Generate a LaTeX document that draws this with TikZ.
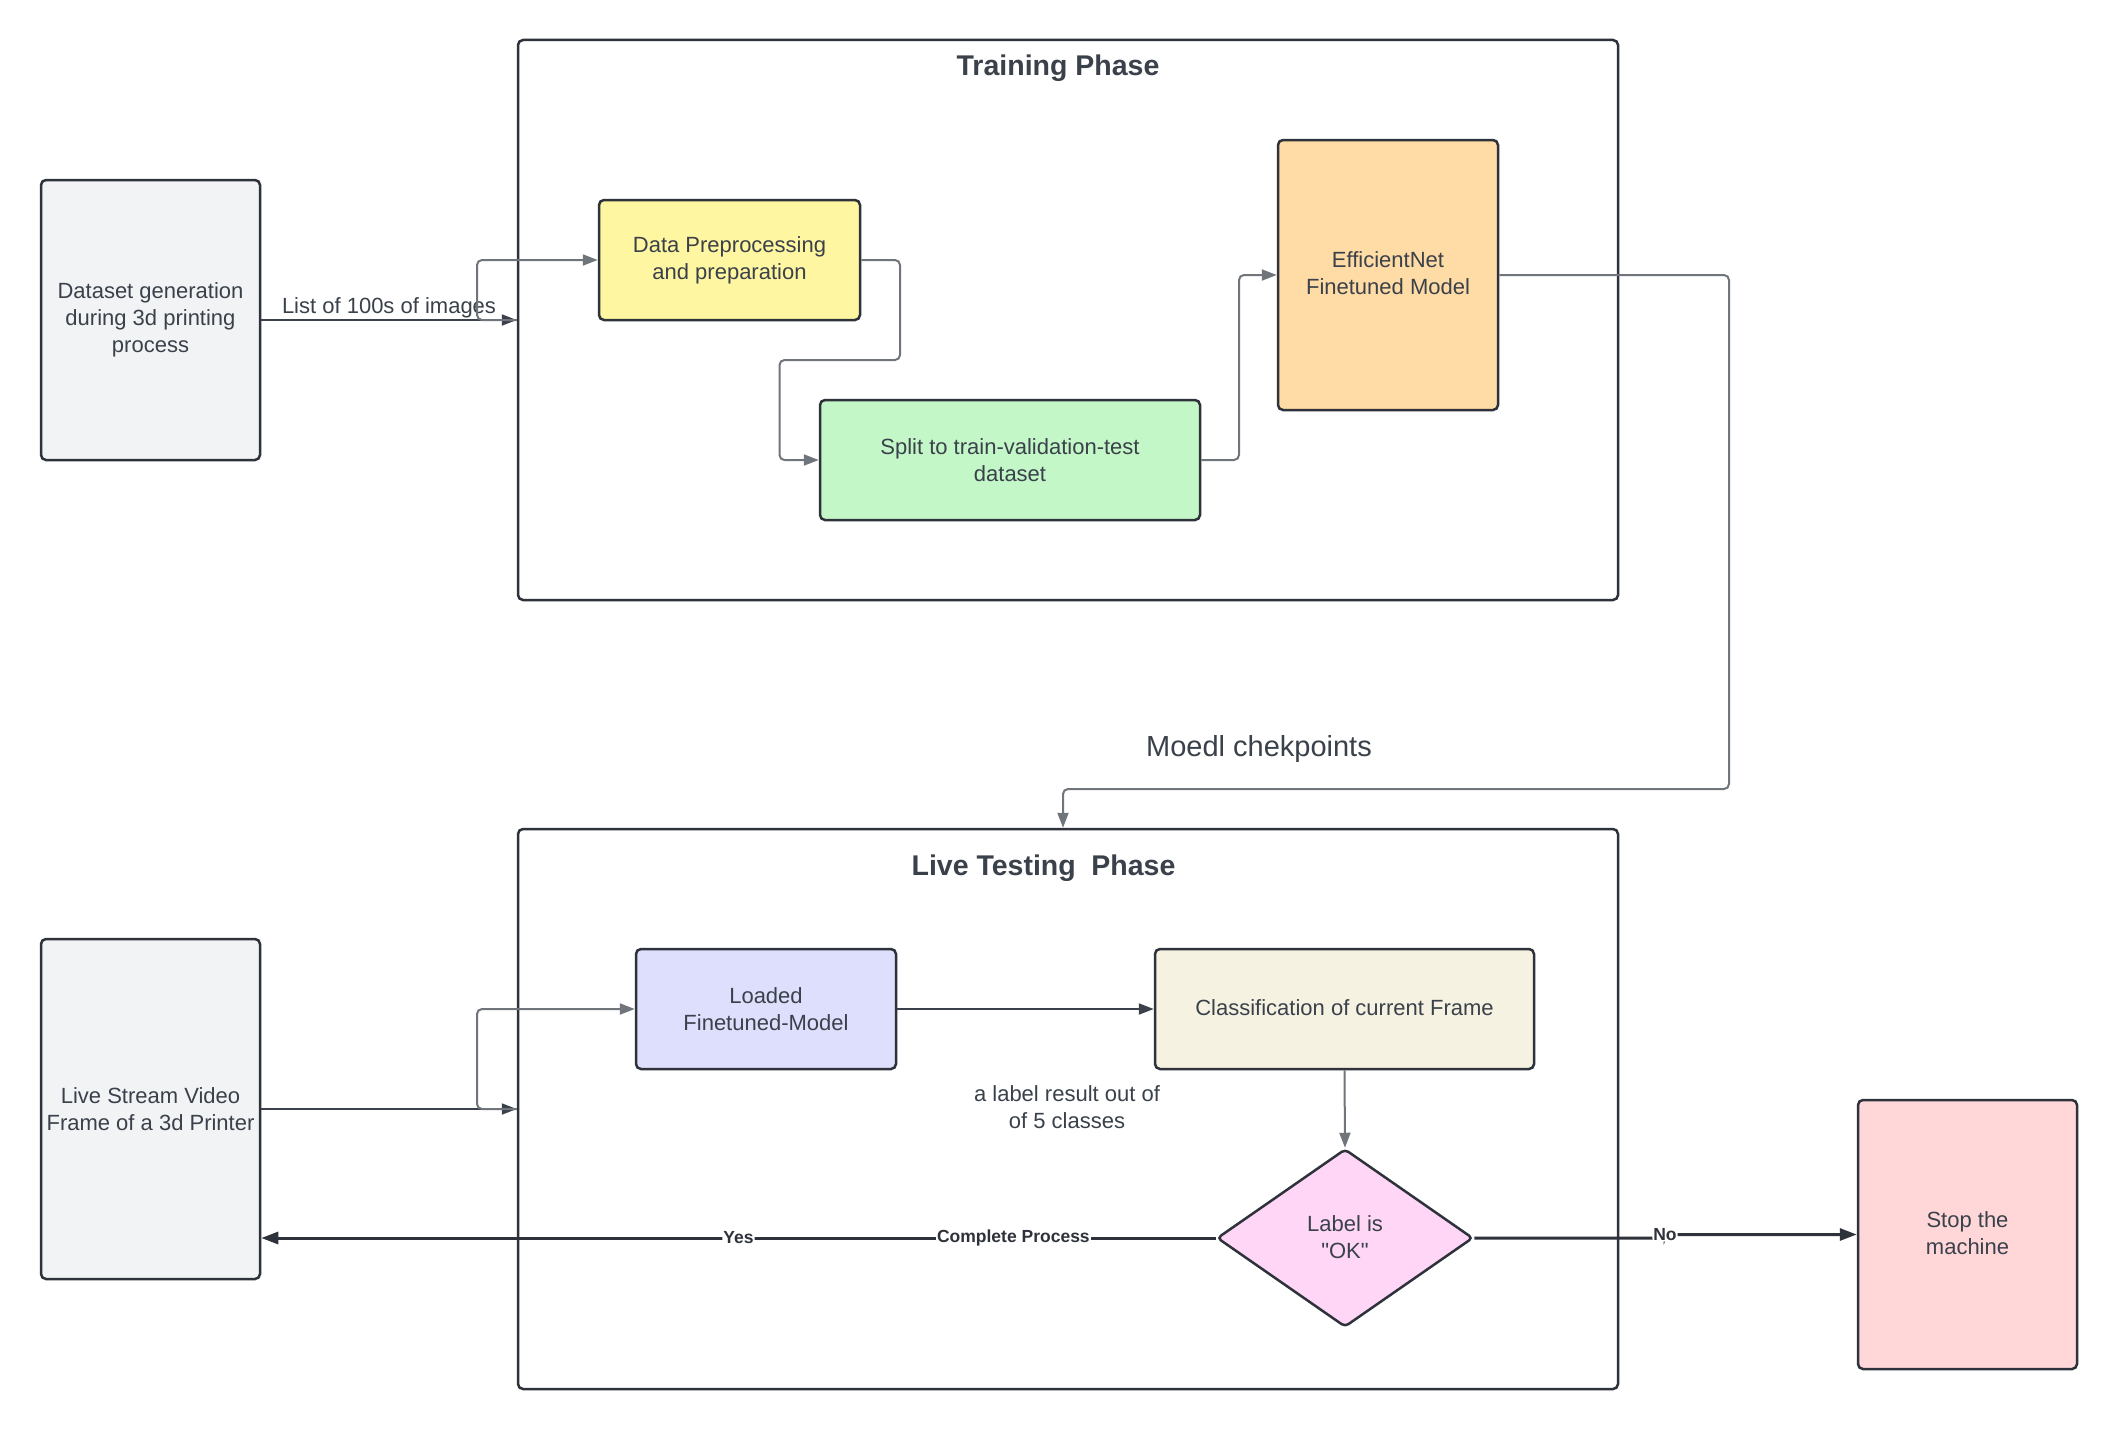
\documentclass[tikz,border=0pt]{standalone}
\usepackage{fontspec}
\setmainfont{Liberation Sans}
\usetikzlibrary{shapes.geometric,arrows.meta}
\definecolor{ink}{HTML}{3A414A}
\definecolor{edge}{HTML}{2E323A}
\definecolor{wire}{HTML}{70747B}
\definecolor{grayfill}{HTML}{F2F3F5}
\definecolor{yellowfill}{HTML}{FFF6A1}
\definecolor{greenfill}{HTML}{C3F7C8}
\definecolor{orangefill}{HTML}{FFDBA6}
\definecolor{lavfill}{HTML}{DEDFFC}
\definecolor{creamfill}{HTML}{F5F2E2}
\definecolor{pinkfill}{HTML}{FFD6F6}
\definecolor{redfill}{HTML}{FFD7D9}
\begin{document}
\begin{tikzpicture}[x=1pt,y=-1pt,
  box/.style={draw=edge, line width=2.5pt, rounded corners=5pt, inner sep=0pt,
    align=center, text=ink, font=\fontsize{22}{27}\selectfont},
  group/.style={draw=edge, line width=2.5pt, rounded corners=5pt, inner sep=0pt},
  title/.style={text=ink, font=\bfseries\fontsize{28.5}{34}\selectfont, inner sep=0pt},
  plain/.style={text=ink, align=center, font=\fontsize{22}{27}\selectfont},
  wirec/.style={draw=wire, line width=2pt, rounded corners=5pt, -{Triangle[length=15pt,width=11pt]}},
  flow/.style={draw=ink, line width=2pt, -{Triangle[length=15pt,width=11pt]}},
  heavy/.style={draw=edge, line width=3pt, rounded corners=3pt, -{Triangle[length=17pt,width=12pt]}},
  lbl/.style={fill=white, inner sep=1pt, text=edge, font=\bfseries\fontsize{17.5}{20}\selectfont}
]
\useasboundingbox (0,0) rectangle (2118,1429);
\fill[white] (0,0) rectangle (2118,1429);

% containers
\node[group, minimum width=1100pt, minimum height=560pt] (training) at (1068,320) {};
\node[title] (ttitle) at (1058,68) {Training Phase};
\node[group, minimum width=1100pt, minimum height=560pt] (live) at (1068,1109) {};
\node[title] (ltitle) at (1043.5,868) {Live Testing\hspace{0.55em}Phase};

% outside boxes
\node[box, fill=grayfill, minimum width=219pt, minimum height=280pt] (dataset) at (150.5,320)
  {Dataset generation\\during 3d printing\\process};
\node[box, fill=grayfill, minimum width=219pt, minimum height=340pt] (stream) at (150.5,1109)
  {Live Stream Video\\Frame of a 3d Printer};
\node[box, fill=redfill, minimum width=219pt, minimum height=269pt] (stop) at (1967.5,1234.5)
  {\raisebox{3pt}{Stop the}\\\raisebox{3pt}{machine}};

% training phase boxes
\node[box, fill=yellowfill, minimum width=261pt, minimum height=120pt] (prep) at (729.5,260)
  {Data Preprocessing\\and preparation};
\node[box, fill=greenfill, minimum width=380pt, minimum height=120pt] (split) at (1010,460)
  {Split to train-validation-test\\dataset};
\node[box, fill=orangefill, minimum width=220pt, minimum height=270pt] (eff) at (1388,275)
  {\raisebox{4pt}{EfficientNet}\\\raisebox{4pt}{Finetuned Model}};

% live phase boxes
\node[box, fill=lavfill, minimum width=260pt, minimum height=120pt] (loaded) at (766,1009)
  {Loaded\\Finetuned-Model};
\node[box, fill=creamfill, minimum width=379pt, minimum height=120pt] (classify) at (1344.5,1009)
  {\raisebox{2pt}{Classification of current Frame}};
\node[box, fill=pinkfill, shape=diamond, rounded corners=4pt, minimum width=256pt, minimum height=178pt] (ok) at (1345,1238)
  {\raisebox{2pt}{Label is}\\\raisebox{2pt}{\textquotedbl OK\textquotedbl}};

% free texts
\node[plain] (ckpt) at (1259,749) {\fontsize{29}{34}\selectfont Moedl chekpoints};
\node[plain] (result) at (1067,1107) {a label result out of\\of 5 classes};

% connectors: training phase
\draw[flow] (dataset.east) -- node[plain, above, inner sep=1pt] {List of 100s of images} (training.west);
\draw[wirec] (training.west) -- (477,320) -- (477,260) -- (prep.west);
\draw[wirec] (prep.east) -- (900,260) -- (900,360) -- (779.5,360) -- (779.5,460) -- (split.west);
\draw[wirec] (split.east) -- (1239,460) -- (1239,275) -- (eff.west);
\draw[wirec] (eff.east) -- (1729,275) -- (1729,789) -- (1063,789) -- ([xshift=-5pt]live.north);

% connectors: live phase
\draw[flow] (stream.east) -- (live.west);
\draw[wirec] (live.west) -- (477,1109) -- (477,1009) -- (loaded.west);
\draw[flow] (loaded.east) -- (classify.west);
\draw[wirec] (classify.south) -- (ok.north);
\draw[heavy] (ok.west) -- node[lbl, pos=0.212] {Complete Process} node[lbl, pos=0.5] {Yes} (stream.east |- ok.west);
\draw[heavy] (ok.east) -- (1665,1238) -- (1665,1234.5) node[lbl] {No} -- (stop.west);
\end{tikzpicture}
\end{document}
